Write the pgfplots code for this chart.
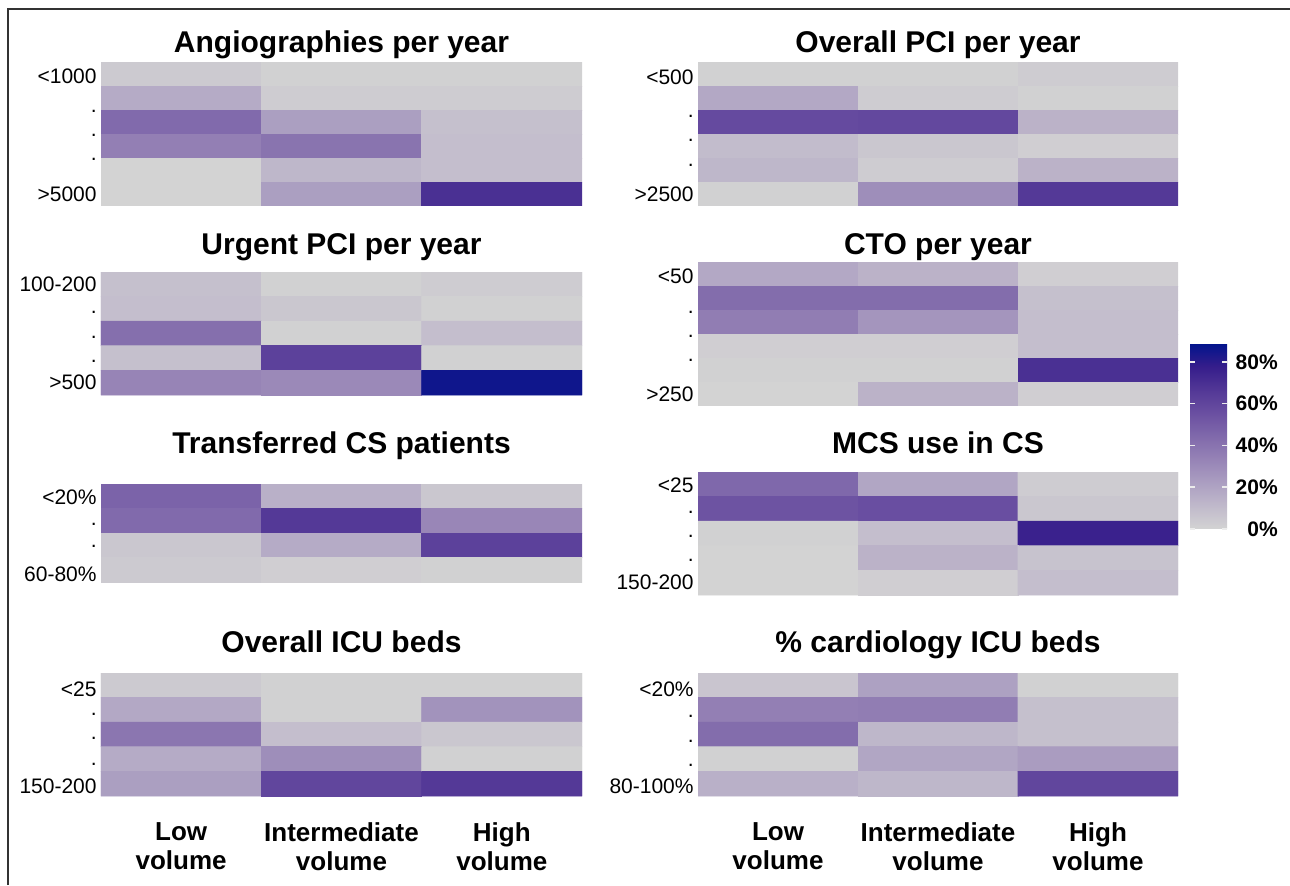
\documentclass[border=0pt]{standalone}
\usepackage{fontspec}
\setmainfont{Liberation Sans}
\usepackage{pgfplots}
\pgfplotsset{compat=1.18}
\pgfplotsset{
  colormap={gp}{rgb255(0)=(211,211,211) rgb255(1)=(192,185,203) rgb255(2)=(171,158,193) rgb255(3)=(150,131,182) rgb255(4)=(128,105,171) rgb255(5)=(106,79,161) rgb255(6)=(82,55,150) rgb255(7)=(53,29,139) rgb255(8)=(0,20,140)},
  hm/.style={scale only axis, width=240.5pt, anchor=north west,
    xmin=-0.5, xmax=2.5, y dir=reverse,
    axis line style={draw=none}, major tick length=0pt, xtick=\empty,
    colormap name=gp, point meta min=0, point meta max=89,
    tick label style={font=\fontsize{10.5}{12}\selectfont},
    yticklabel style={inner sep=0pt, xshift=-2pt},
    title style={at={(0.5,1)}, anchor=base, inner sep=0pt, font=\fontsize{15}{18}\selectfont\bfseries},
  },
  hmx/.style={xtick={0,1,2},
    xticklabels={{Low\\volume},{Intermediate\\volume},{High\\volume}},
    xticklabel style={align=center, inner sep=0pt, yshift=-13pt, font=\fontsize{13}{14.5}\selectfont\bfseries}},
}
\begin{document}
\begin{tikzpicture}
\useasboundingbox (0pt,0pt) rectangle (645pt,442.5pt);
\draw[line width=1pt, black!80] (4pt,0pt) -- (4pt,438pt) -- (645pt,438pt);

% P1 Angiographies
\begin{axis}[hm, at={(50.5pt,411.5pt)}, height=72pt, ymin=-0.5, ymax=5.5,
  title={Angiographies per year}, title style={yshift=-1.5pt},
  ytick={0.1,1.55,2.55,3.55,5}, yticklabels={<1000,.,.,.,>5000}]
\addplot[matrix plot*, mesh/cols=3, point meta=explicit] table[meta=v]{
x y v
0 0 4
1 0 1
2 0 1
0 1 17
1 1 3
2 1 3
0 2 44
1 2 22
2 2 8
0 3 35
1 3 40
2 3 9
0 4 0
1 4 12
2 4 9
0 5 0
1 5 22
2 5 70
};
\end{axis}

% P2 Overall PCI
\begin{axis}[hm, at={(349pt,411.5pt)}, width=240pt, height=72pt, ymin=-0.5, ymax=5.5,
  title={Overall PCI per year}, title style={yshift=-1.5pt},
  ytick={0.12,1.75,2.75,3.8,5}, yticklabels={<500,.,.,.,>2500}]
\addplot[matrix plot*, mesh/cols=3, point meta=explicit] table[meta=v]{
x y v
0 0 1
1 0 1
2 0 3
0 1 18
1 1 3
2 1 1
0 2 58
1 2 59
2 2 14
0 3 10
1 3 5
2 3 2
0 4 12
1 4 3
2 4 14
0 5 1
1 5 29
2 5 66
};
\end{axis}

% P3 Urgent PCI
\begin{axis}[hm, at={(50.5pt,306.5pt)}, height=61.5pt, ymin=-0.5, ymax=4.5,
  title={Urgent PCI per year}, title style={yshift=3pt},
  ytick={0,1.15,2.15,3.15,4}, yticklabels={100-200,.,.,.,>500}]
\addplot[matrix plot*, mesh/cols=3, point meta=explicit] table[meta=v]{
x y v
0 0 8
1 0 1
2 0 3
0 1 9
1 1 5
2 1 1
0 2 42
1 2 1
2 2 9
0 3 8
1 3 62
2 3 1
0 4 33
1 4 31
2 4 86
};
\end{axis}

% P4 CTO
\begin{axis}[hm, at={(349pt,311.5pt)}, width=240pt, height=72pt, ymin=-0.5, ymax=5.5,
  title={CTO per year}, title style={yshift=-2pt},
  ytick={0.1,1.6,2.6,3.6,5}, yticklabels={<50,.,.,.,>250},
  colorbar, colorbar/width=18.5pt,
  colorbar style={at={(parent axis.north east)}, anchor=north west,
    xshift=-2.5pt, yshift=-40.5pt, width=18.5pt, height=93pt,
    axis line style={draw=none},
    ytick={0,20,40,60,80}, yticklabels={0\%,20\%,40\%,60\%,80\%},
    ytick pos=both, yticklabel pos=right,
    major tick length=2.5pt, tick align=inside,
    tick style={white!85!gray, line width=0.8pt},
    yticklabel style={anchor=east, inner sep=0pt, xshift=25.5pt, font=\fontsize{10.5}{12}\selectfont\bfseries}}]
\addplot[matrix plot*, mesh/cols=3, point meta=explicit] table[meta=v]{
x y v
0 0 18
1 0 14
2 0 2
0 1 43
1 1 43
2 1 8
0 2 36
1 2 26
2 2 9
0 3 2
1 3 2
2 3 9
0 4 1
1 4 1
2 4 70
0 5 0
1 5 14
2 5 2
};
\end{axis}

% P5 Transferred CS
\begin{axis}[hm, at={(50.5pt,200.5pt)}, height=49pt, ymin=-0.5, ymax=3.5,
  title={Transferred CS patients}, title style={yshift=9.5pt},
  ytick={0.05,1.15,2.05,3.2}, yticklabels={<20\%,.,.,60-80\%}]
\addplot[matrix plot*, mesh/cols=3, point meta=explicit] table[meta=v]{
x y v
0 0 47
1 0 15
2 0 5
0 1 44
1 1 66
2 1 32
0 2 5
1 2 17
2 2 62
0 3 4
1 3 2
2 3 1
};
\end{axis}

% P6 MCS
\begin{axis}[hm, at={(349pt,206.5pt)}, width=240pt, height=61.5pt, ymin=-0.5, ymax=4.5,
  title={MCS use in CS}, title style={yshift=3.5pt},
  ytick={0.05,1.15,2.1,3.1,4}, yticklabels={<25,.,.,.,150-200}]
\addplot[matrix plot*, mesh/cols=3, point meta=explicit] table[meta=v]{
x y v
0 0 45
1 0 19
2 0 3
0 1 54
1 1 56
2 1 5
0 2 1
1 2 9
2 2 76
0 3 0
1 3 14
2 3 7
0 4 0
1 4 2
2 4 9
};
\end{axis}

% P7 Overall ICU beds
\begin{axis}[hm, hmx, at={(50.5pt,106pt)}, height=61.5pt, ymin=-0.5, ymax=4.5,
  title={Overall ICU beds}, title style={yshift=4.5pt},
  ytick={0.15,1.2,2.17,3.2,4.1}, yticklabels={<25,.,.,.,150-200}]
\addplot[matrix plot*, mesh/cols=3, point meta=explicit] table[meta=v]{
x y v
0 0 4
1 0 1
2 0 1
0 1 18
1 1 1
2 1 27
0 2 39
1 2 9
2 2 5
0 3 17
1 3 29
2 3 1
0 4 22
1 4 60
2 4 66
};
\end{axis}

% P8 % cardiology ICU beds
\begin{axis}[hm, hmx, at={(349pt,106pt)}, width=240pt, height=61.5pt, ymin=-0.5, ymax=4.5,
  title={\% cardiology ICU beds}, title style={yshift=4.5pt},
  ytick={0.15,1.27,2.26,3.26,4.1}, yticklabels={<20\%,.,.,.,80-100\%}]
\addplot[matrix plot*, mesh/cols=3, point meta=explicit] table[meta=v]{
x y v
0 0 6
1 0 21
2 0 1
0 1 35
1 1 36
2 1 8
0 2 43
1 2 12
2 2 8
0 3 1
1 3 19
2 3 23
0 4 15
1 4 12
2 4 60
};
\end{axis}
\end{tikzpicture}
\end{document}
